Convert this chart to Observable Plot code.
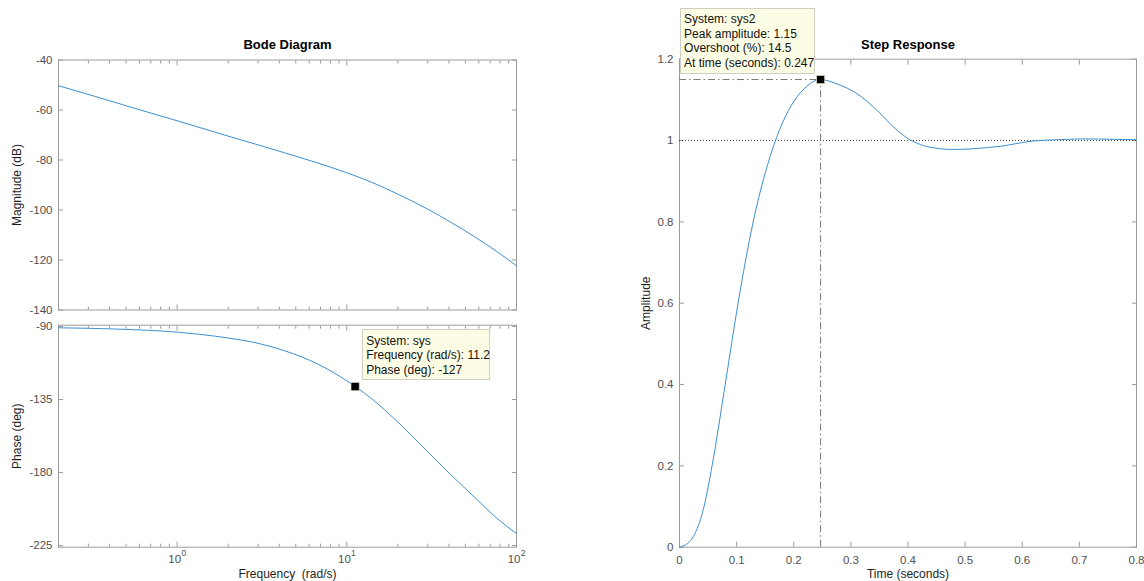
<!DOCTYPE html>
<html>
<head>
<meta charset="utf-8">
<script src="https://cdn.jsdelivr.net/npm/d3@7"></script>
<script src="https://cdn.jsdelivr.net/npm/@observablehq/plot@0.6"></script>
<style>
html, body { margin: 0; padding: 0; background: #fff; overflow: hidden; }
#root { position: relative; width: 1144px; height: 581px; overflow: hidden; font-family: "Liberation Sans", Arial, Helvetica, sans-serif; }
.panel { position: absolute; }
.panel svg { overflow: visible; }
.tip { position: absolute; box-sizing: border-box; background: #fdfde6; border: 1px solid #cfcfc4; font-size: 12px; line-height: 14.5px; color: #111; white-space: nowrap; padding: 3.5px 4px 3px 3.5px; }
</style>
</head>
<body>
<div id="root"></div>
<script>
// ---------- data ----------
const bodeTitle = "Bode Diagram";
const stepTitle = "Step Response";
const magLabel = "Magnitude (dB)";
const phaseLabel = "Phase (deg)";
const freqLabel = "Frequency\u00a0 (rad/s)";
const ampLabel = "Amplitude";
const timeLabel = "Time (seconds)";

const magFreq = [0.2, 0.326, 0.561, 1, 1.99, 4.29, 10, 13.9, 19.9, 29.9, 41, 56.3, 77.3, 100];
const magDb   = [-50.3, -54.5, -59.3, -64.3, -70.4, -77.1, -85.1, -88.8, -93.6, -99.6, -104.9, -110.6, -116.8, -122.3];

const phaseFreq = [0.2, 0.447, 1, 2, 2.98, 4.29, 6.73, 10, 11.2, 13.9, 19.9, 29.9, 41, 56.3, 77.3, 100];
const phaseDeg  = [-90.8, -91.6, -93.5, -97.1, -100.3, -104.9, -113.1, -123.5, -127, -134.2, -148.7, -167, -181.3, -195, -208.5, -217.6];

const magTicks = [-140, -120, -100, -80, -60, -40];
const phaseTicks = [-225, -180, -135, -90];
const freqDecades = [1, 10, 100];
const decadeExponents = ["0", "1", "2"];
const freqMinor = [0.3, 0.4, 0.5, 0.6, 0.7, 0.8, 0.9, 2, 3, 4, 5, 6, 7, 8, 9, 20, 30, 40, 50, 60, 70, 80, 90];

const markerFreq = 11.2;
const markerPhase = -127;
const sysTip = ["System: sys", "Frequency (rad/s): 11.2", "Phase (deg): -127"];

const stepTime = [0, 0.0193, 0.0426, 0.057, 0.080, 0.1025, 0.129, 0.150, 0.168, 0.194, 0.218, 0.247, 0.276, 0.311, 0.346, 0.381, 0.402, 0.422, 0.445, 0.48, 0.515, 0.562, 0.62, 0.66, 0.708, 0.76, 0.8];
const stepAmp  = [0, 0.0165, 0.098, 0.2, 0.4, 0.6, 0.8, 0.92, 1.0, 1.082, 1.127, 1.15, 1.139, 1.115, 1.074, 1.025, 1.003, 0.99, 0.982, 0.978, 0.98, 0.986, 0.999, 1.002, 1.004, 1.003, 1.002];
const stepXTicks = [0, 0.1, 0.2, 0.3, 0.4, 0.5, 0.6, 0.7, 0.8];
const stepYTicks = [0, 0.2, 0.4, 0.6, 0.8, 1, 1.2];
const finalValue = 1;
const peakTime = 0.247;
const peakAmp = 1.15;
const sys2Tip = ["System: sys2", "Peak amplitude: 1.15", "Overshoot (%): 14.5", "At time (seconds): 0.247"];

// ---------- style ----------
const fontFamily = '"Liberation Sans", Arial, Helvetica, sans-serif';
const frameColor = "#9b9b9b";
const tickLabelColor = "#505050";
const labelColor = "#1e1e1e";
const lineColor = "#3d8fd1";
const baseStyle = { fontFamily, fontSize: "11.5px", color: tickLabelColor, background: "transparent", overflow: "visible" };

const magData = magFreq.map((f, i) => ({ f, v: magDb[i] }));
const phaseData = phaseFreq.map((f, i) => ({ f, v: phaseDeg[i] }));
const stepData = stepTime.map((t, i) => ({ t, a: stepAmp[i] }));

function tickOnlyX(values, anchor, size) {
  return Plot.axisX(values, { anchor, tickSize: -size, tickFormat: () => "", fill: "none", stroke: frameColor, label: null });
}
function tickOnlyY(values, anchor, size) {
  return Plot.axisY(values, { anchor, tickSize: -size, tickFormat: () => "", fill: "none", stroke: frameColor, label: null });
}
function labelY(values, fmt) {
  return Plot.axisY(values, { anchor: "left", tickSize: -5, tickPadding: 11, tickFormat: fmt, stroke: frameColor, fill: tickLabelColor, label: null });
}
function yTitle(text, offset) {
  return Plot.text([text], { frameAnchor: "left", text: d => d, rotate: -90, dx: -offset, textAnchor: "middle", lineAnchor: "middle", fontSize: 12, fill: labelColor });
}

const root = document.getElementById("root");
function place(el, left, top) {
  const d = document.createElement("div");
  d.className = "panel";
  d.style.left = left + "px";
  d.style.top = top + "px";
  d.appendChild(el);
  root.appendChild(d);
  return d;
}

// ---------- Magnitude ----------
const magPlot = Plot.plot({
  width: 560, height: 318,
  marginLeft: 58, marginRight: 44, marginTop: 59.5, marginBottom: 8.5,
  style: baseStyle,
  x: { type: "log", domain: [0.2, 100] },
  y: { domain: [-140, -40] },
  marks: [
    Plot.frame({ stroke: frameColor }),
    tickOnlyX(freqMinor, "top", 3), tickOnlyX(freqDecades, "top", 5),
    tickOnlyX(freqMinor, "bottom", 3), tickOnlyX(freqDecades, "bottom", 5),
    labelY(magTicks, d => String(d)),
    tickOnlyY(magTicks, "right", 5),
    Plot.line(magData, { x: "f", y: "v", stroke: lineColor, strokeWidth: 1, curve: "monotone-x" }),
    Plot.text([bodeTitle], { frameAnchor: "top", text: d => d, dy: -11, textAnchor: "middle", lineAnchor: "bottom", fontSize: 13, fontWeight: "bold", fill: "#000" }),
    yTitle(magLabel, 41)
  ]
});
place(magPlot, 0, 0);

// ---------- Phase ----------
const phaseTop = 318;
const phasePlot = Plot.plot({
  width: 560, height: 263,
  marginLeft: 58, marginRight: 44, marginTop: 6.7, marginBottom: 34.3,
  style: baseStyle,
  x: { type: "log", domain: [0.2, 100] },
  y: { domain: [-226, -89.2] },
  marks: [
    Plot.frame({ stroke: frameColor }),
    tickOnlyX(freqMinor, "top", 3), tickOnlyX(freqDecades, "top", 5),
    tickOnlyX(freqMinor, "bottom", 3), tickOnlyX(freqDecades, "bottom", 5),
    labelY(phaseTicks, d => String(d)),
    tickOnlyY(phaseTicks, "right", 5),
    Plot.line(phaseData, { x: "f", y: "v", stroke: lineColor, strokeWidth: 1, curve: "monotone-x" }),
    Plot.dot([{ f: markerFreq, v: markerPhase }], { x: "f", y: "v", symbol: "square", r: 4.7, fill: "#000", stroke: "#e9e9cf", strokeWidth: 0.7 }),
    Plot.text(freqDecades, { x: d => d, frameAnchor: "bottom", text: () => "10", textAnchor: "end", dx: 4, dy: 15.8, lineAnchor: "bottom", fill: tickLabelColor, fontSize: 11.5 }),
    Plot.text(freqDecades, { x: d => d, frameAnchor: "bottom", text: (d, i) => decadeExponents[i], textAnchor: "start", dx: 4.3, dy: 9, lineAnchor: "bottom", fill: tickLabelColor, fontSize: 8.5 }),
    Plot.text([freqLabel], { frameAnchor: "bottom", text: d => d, dy: 31, textAnchor: "middle", lineAnchor: "bottom", fontSize: 12, fill: labelColor }),
    yTitle(phaseLabel, 41)
  ]
});
place(phasePlot, 0, phaseTop);

// ---------- Step ----------
const stepLeft = 572;
const stepPlot = Plot.plot({
  width: 572, height: 581,
  marginLeft: 107, marginRight: 8, marginTop: 58.7, marginBottom: 34.3,
  style: baseStyle,
  x: { domain: [0, 0.8] },
  y: { domain: [0, 1.2] },
  marks: [
    Plot.frame({ stroke: frameColor }),
    Plot.axisX(stepXTicks, { anchor: "bottom", tickSize: -5, tickPadding: 14, tickFormat: d => String(d), stroke: frameColor, fill: tickLabelColor, label: null }),
    tickOnlyX(stepXTicks, "top", 5),
    labelY(stepYTicks, d => String(d)),
    tickOnlyY(stepYTicks, "right", 5),
    Plot.ruleY([finalValue], { stroke: "#333", strokeWidth: 0.9, strokeDasharray: "1,2" }),
    Plot.ruleY([peakAmp], { x1: () => 0, x2: () => peakTime, stroke: "#777", strokeWidth: 1, strokeDasharray: "7,3,1.5,3" }),
    Plot.ruleX([peakTime], { y1: () => 0, y2: () => peakAmp, stroke: "#777", strokeWidth: 1, strokeDasharray: "7,3,1.5,3" }),
    Plot.line(stepData, { x: "t", y: "a", stroke: lineColor, strokeWidth: 1, curve: "monotone-x" }),
    Plot.dot([{ t: peakTime, a: peakAmp }], { x: "t", y: "a", symbol: "square", r: 4.6, fill: "#000", stroke: "#e9e9cf", strokeWidth: 0.7 }),
    Plot.text([stepTitle], { frameAnchor: "top", text: d => d, dy: -10, textAnchor: "middle", lineAnchor: "bottom", fontSize: 13, fontWeight: "bold", fill: "#000" }),
    Plot.text([timeLabel], { frameAnchor: "bottom", text: d => d, dy: 30.3, textAnchor: "middle", lineAnchor: "bottom", fontSize: 12, fill: labelColor }),
    yTitle(ampLabel, 33)
  ]
});
place(stepPlot, stepLeft, 0);

// ---------- data tips (placed from the plots' own scales) ----------
function tip(lines, left, top, width, height) {
  const d = document.createElement("div");
  d.className = "tip";
  d.style.left = left + "px";
  d.style.top = top + "px";
  d.style.width = width + "px";
  d.style.height = height + "px";
  lines.forEach(s => { const l = document.createElement("div"); l.textContent = s; d.appendChild(l); });
  root.appendChild(d);
}
const mx = phasePlot.scale("x").apply(markerFreq);
const my = phasePlot.scale("y").apply(markerPhase) + phaseTop;
tip(sysTip, mx + 7, my - 57, 128.5, 51);

const sx = stepPlot.scale("x").apply(peakTime) + stepLeft;
const sy = stepPlot.scale("y").apply(peakAmp);
tip(sys2Tip, sx - 140.5, sy - 71.5, 135, 66);
</script>
</body>
</html>
